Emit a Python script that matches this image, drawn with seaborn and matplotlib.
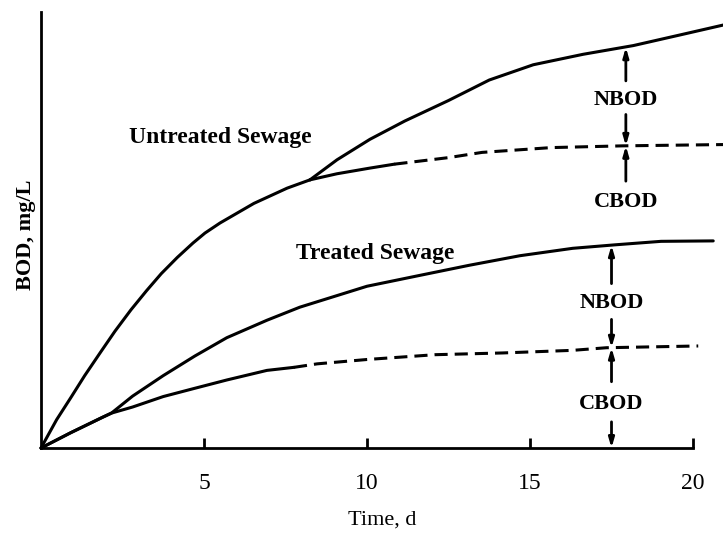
import matplotlib
matplotlib.use("Agg")
import matplotlib.pyplot as plt
import seaborn as sns

# --- data (time in days, BOD in arbitrary mg/L units) ---
# untreated sewage: shared rise before nitrification starts
untreated_t = [0, 0.48, 0.91, 1.34, 1.82, 2.27, 2.76, 3.24, 3.69, 4.18, 4.66, 5.03, 5.49, 6.53, 7.55, 8.25]
untreated_bod = [0, 0.65, 1.15, 1.66, 2.19, 2.68, 3.17, 3.61, 4.00, 4.37, 4.70, 4.93, 5.16, 5.61, 5.96, 6.15]
# untreated total (CBOD + NBOD)
untreated_total_t = [8.25, 9.08, 10.09, 11.16, 12.5, 13.75, 15.1, 16.63, 18.17, 19.58, 20.98]
untreated_total_bod = [6.15, 6.61, 7.08, 7.50, 7.97, 8.44, 8.79, 9.03, 9.23, 9.47, 9.71]
# untreated carbonaceous only
untreated_cbod_t = [8.25, 9.08, 10.09, 10.84]
untreated_cbod_bod = [6.15, 6.29, 6.42, 6.51]
untreated_cbod_dash_t = [10.84, 12.5, 13.53, 15.65, 17.84, 20.98]
untreated_cbod_dash_bod = [6.51, 6.66, 6.78, 6.89, 6.93, 6.96]

# treated sewage
treated_total_t = [0, 0.91, 1.875, 2.16, 2.81, 3.75, 4.72, 5.70, 6.93, 7.94, 10.0, 11.56,
                   13.13, 14.69, 16.31, 17.61, 19.02, 20.62]
treated_total_bod = [0, 0.35, 0.70, 0.80, 1.19, 1.66, 2.11, 2.53, 2.93, 3.23, 3.71, 3.95,
                     4.19, 4.41, 4.58, 4.66, 4.74, 4.75]
treated_cbod_t = [0, 0.91, 1.875, 2.16, 2.81, 3.75, 4.72, 5.70, 6.93, 7.76]
treated_cbod_bod = [0, 0.35, 0.70, 0.80, 0.94, 1.18, 1.37, 1.56, 1.78, 1.85]
treated_cbod_dash_t = [7.76, 8.47, 10.0, 12.09, 14.16, 16.31, 17.35, 20.16]
treated_cbod_dash_bod = [1.85, 1.93, 2.03, 2.14, 2.18, 2.24, 2.30, 2.34]

x_ticks = [5, 10, 15, 20]

sns.set_style("white", {"text.color": "black", "axes.labelcolor": "black",
                        "xtick.color": "black", "axes.edgecolor": "black"})
plt.rcParams["font.family"] = ["Liberation Serif", "DejaVu Serif"]

fig = plt.figure(figsize=(7.23, 5.38), dpi=100)
ax = fig.add_axes([41 / 723, 90 / 538, 682 / 723, 436 / 538])

lw = 2.2
solid = [(untreated_t, untreated_bod), (untreated_total_t, untreated_total_bod),
         (untreated_cbod_t, untreated_cbod_bod), (treated_total_t, treated_total_bod),
         (treated_cbod_t, treated_cbod_bod)]
for t, b in solid:
    sns.lineplot(x=t, y=b, ax=ax, color="black", lw=lw, sort=False, clip_on=False)
    ax.lines[-1].set_solid_joinstyle("round")

dashed = [(untreated_cbod_dash_t, untreated_cbod_dash_bod),
          (treated_cbod_dash_t, treated_cbod_dash_bod)]
for t, b in dashed:
    sns.lineplot(x=t, y=b, ax=ax, color="black", lw=lw, sort=False, clip_on=False)
    ax.lines[-1].set_dashes((4.3, 2.3))

ax.set_xlim(0, 20.92)
ax.set_ylim(0, 10)
ax.spines["top"].set_visible(False)
ax.spines["right"].set_visible(False)
ax.spines["left"].set_linewidth(2)
ax.spines["bottom"].set_linewidth(2)
ax.spines["bottom"].set_bounds(0, 20)

ax.set_xticks(x_ticks)
ax.set_xticklabels([str(v) for v in x_ticks], fontsize=17)
ax.set_yticks([])
ax.tick_params(axis="x", direction="in", length=7, width=2, pad=18, bottom=True)

ax.set_xlabel("Time, d", fontsize=16, labelpad=12)
ax.set_ylabel("BOD, mg/L", fontsize=16, fontweight="bold")
ax.yaxis.set_label_coords(-0.008, 0.49)

# curve labels
ax.text(5.5, 7.13, "Untreated Sewage", fontsize=17, fontweight="bold", ha="center", va="center")
ax.text(10.25, 4.47, "Treated Sewage", fontsize=17, fontweight="bold", ha="center", va="center")

# NBOD / CBOD markers
arrow = dict(arrowstyle="-|>,head_length=0.55,head_width=0.16", lw=2, color="black",
             shrinkA=0, shrinkB=0)


def gap(x, y_text, y_from, y_to, label):
    ax.text(x, y_text, label, fontsize=16, fontweight="bold", ha="center", va="center")
    ax.annotate("", xy=(x, y_to), xytext=(x, y_from), arrowprops=arrow)


# untreated
gap(17.94, 7.98, 8.42, 9.19, "NBOD")
ax.annotate("", xy=(17.94, 6.93), xytext=(17.94, 7.65), arrowprops=arrow)
gap(17.94, 5.65, 6.12, 6.93, "CBOD")
# treated
gap(17.5, 3.33, 3.77, 4.65, "NBOD")
ax.annotate("", xy=(17.5, 2.30), xytext=(17.5, 2.95), arrowprops=arrow)
gap(17.5, 1.02, 1.52, 2.30, "CBOD")
ax.annotate("", xy=(17.5, 0.0), xytext=(17.5, 0.6), arrowprops=arrow)

fig.savefig("out.png", dpi=100)
